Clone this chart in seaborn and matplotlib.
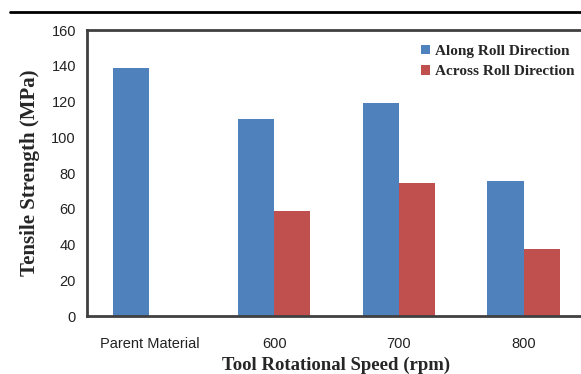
import pandas as pd
import numpy as np
import matplotlib
matplotlib.use("Agg")
import matplotlib.pyplot as plt
from matplotlib.lines import Line2D
import seaborn as sns

# datos
categorias = ["Parent Material", "600", "700", "800"]
along_roll = [138.5, 110, 119, 75.5]
across_roll = [np.nan, 58.8, 74.5, 37.5]
series = ["Along Roll Direction", "Across Roll Direction"]
colores = ["#4F81BD", "#C0504D"]
yticks = [0, 20, 40, 60, 80, 100, 120, 140, 160]

df = pd.DataFrame({
    "cat": categorias * 2,
    "serie": [series[0]] * 4 + [series[1]] * 4,
    "valor": along_roll + across_roll,
})

sns.set_style("white")
fig = plt.figure(figsize=(5.81, 3.74), dpi=100)
ax = fig.add_axes([87 / 581, 58 / 374, 499 / 581, 286 / 374])

sns.barplot(data=df, x="cat", y="valor", hue="serie", palette=colores,
            order=categorias, hue_order=series, width=0.58, saturation=1,
            errorbar=None, linewidth=0, ax=ax)

ax.set_xlim(-0.5, 3.5)
ax.set_ylim(0, 160)
ax.set_yticks(yticks)
ax.tick_params(axis="y", length=5, width=1, color="#808080", labelsize=10.5, pad=3)
ax.tick_params(axis="x", length=0, labelsize=10.5, pad=15)
for lab in ax.get_xticklabels() + ax.get_yticklabels():
    lab.set_family("Liberation Sans")
    lab.set_color("#222222")

for s in ["left", "bottom", "top"]:
    ax.spines[s].set_color("#404040")
    ax.spines[s].set_linewidth(2)
ax.spines["right"].set_visible(False)

ax.set_xlabel("Tool Rotational Speed (rpm)", family="Liberation Serif",
              fontweight="bold", fontsize=13.5, labelpad=4)
ax.set_ylabel("Tensile Strength (MPa)", family="Liberation Serif",
              fontweight="bold", fontsize=15, labelpad=8)

leg = ax.legend(loc="upper left", bbox_to_anchor=(0.657, 0.97), frameon=False,
                handlelength=0.6, handleheight=0.6, handletextpad=0.3,
                labelspacing=0.45, borderaxespad=0,
                prop={"family": "Liberation Serif", "weight": "bold", "size": 11})

# linea superior de la figura
fig.add_artist(Line2D([10 / 581, 1.0], [1 - 12 / 374, 1 - 12 / 374],
                      transform=fig.transFigure, color="black", linewidth=2))

plt.savefig("out.png", dpi=100)
